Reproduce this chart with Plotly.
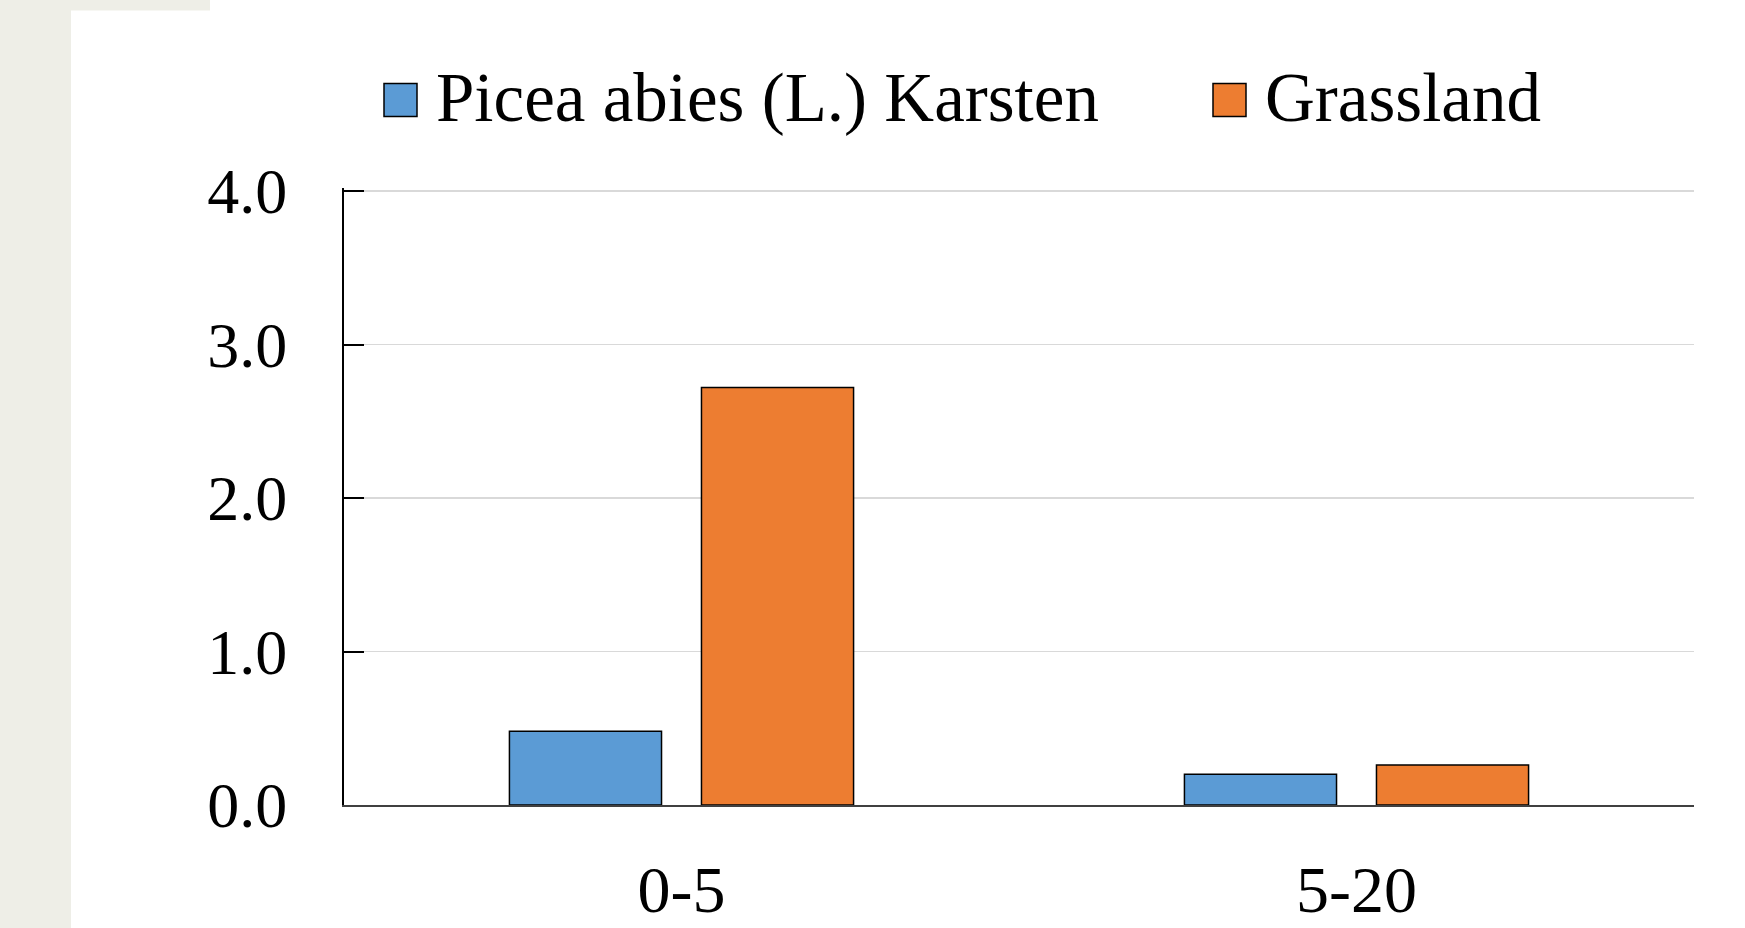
import plotly.graph_objects as go

categories = ["0-5", "5-20"]
picea_values = [0.48, 0.20]
grass_values = [2.72, 0.26]
series_names = ["Picea abies (L.) Karsten", "Grassland"]
series_colors = ["#5B9BD5", "#ED7D31"]
y_ticks = [0, 1, 2, 3, 4]

FONT = "Liberation Serif"
W, H = 1745, 928
L, R, T, B = 344, 51, 188.4, 123
PW, PH = W - L - R, H - T - B


def px_x(x):
    return (x - L) / PW


def px_y(y):
    return (H - B - y) / PH


fig = go.Figure()
for name, vals, col in zip(series_names, [picea_values, grass_values], series_colors):
    fig.add_trace(go.Bar(
        x=categories, y=vals, name=name,
        marker=dict(color=col, line=dict(color="black", width=1.5)),
        showlegend=False,
    ))

shapes = [
    # white page area over beige background
    dict(type="rect", xref="paper", yref="paper", layer="below",
         x0=px_x(71), x1=px_x(W + 5), y0=px_y(H + 5), y1=px_y(11),
         fillcolor="white", line=dict(width=0)),
    dict(type="rect", xref="paper", yref="paper", layer="below",
         x0=px_x(210), x1=px_x(W + 5), y0=px_y(12), y1=px_y(-5),
         fillcolor="white", line=dict(width=0)),
]

# manual legend (large squares like the reference)
legend_items = [(384, 434), (1213, 1263)]
annotations = []
for (sq_x, tx_x), name, col in zip(legend_items, series_names, series_colors):
    shapes.append(dict(type="rect", xref="paper", yref="paper",
                       x0=px_x(sq_x), x1=px_x(sq_x + 33),
                       y0=px_y(117), y1=px_y(84),
                       fillcolor=col, line=dict(color="black", width=1.5)))
    annotations.append(dict(xref="paper", yref="paper",
                            x=px_x(tx_x), y=px_y(98),
                            xanchor="left", yanchor="middle", showarrow=False,
                            text=name, font=dict(family=FONT, size=69, color="black")))

fig.update_layout(
    template="none",
    width=W, height=H,
    margin=dict(l=L, r=R, t=T, b=B, pad=0, autoexpand=False),
    paper_bgcolor="#EEEEE7",
    plot_bgcolor="rgba(0,0,0,0)",
    barmode="group",
    bargap=0.431,
    bargroupgap=0.208,
    shapes=shapes,
    annotations=annotations,
    font=dict(family=FONT, size=66, color="black"),
)
fig.update_xaxes(
    automargin=False,
    showline=True, linecolor="#404040", linewidth=2,
    ticks="", showgrid=False, range=[-0.5, 1.5],
    tickfont=dict(family=FONT, size=66, color="black"),
    ticklabelstandoff=26,
)
fig.update_yaxes(
    automargin=False,
    range=[0, 4.02], tickvals=y_ticks, tickformat=".1f",
    showline=True, linecolor="black", linewidth=2,
    ticks="inside", ticklen=20, tickwidth=2, tickcolor="black",
    showgrid=True, gridcolor="#D9D9D9", gridwidth=1.5,
    zeroline=False,
    tickfont=dict(family=FONT, size=64, color="black"),
    ticklabelstandoff=42,
)

fig.write_html(
    "out.html",
    config={"displayModeBar": False, "staticPlot": True},
    post_script="document.body.style.margin='0';document.body.style.padding='0';"
                "document.body.style.overflow='hidden';",
)
